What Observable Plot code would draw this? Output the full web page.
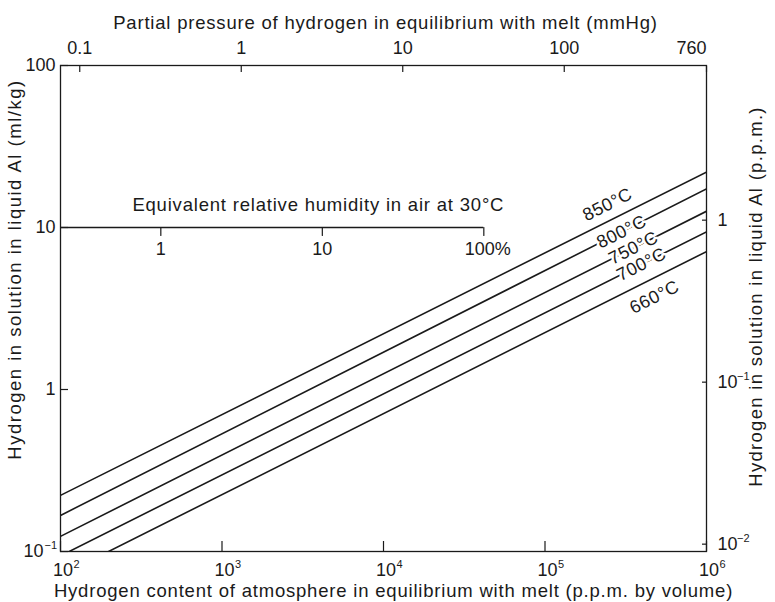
<!DOCTYPE html>
<html>
<head>
<meta charset="utf-8">
<script src="https://cdn.jsdelivr.net/npm/d3@7"></script>
<script src="https://cdn.jsdelivr.net/npm/@observablehq/plot@0.6"></script>
<style>
  body { margin: 0; background: #fff; }
</style>
</head>
<body>
<div id="chart"></div>
<script>
// ---- Data ----
const temperatures = ["850°C", "800°C", "750°C", "700°C", "660°C"];
// hydrogen solubility (ml/kg) at 10^2 and 10^6 p.p.m. of hydrogen in the atmosphere
const solubilityAt1e2 = [0.222, 0.167, 0.124, 0.094, 0.071];
const solubilityAt1e6 = [22.0, 17.3, 12.6, 9.4, 7.1];
// where each temperature label sits along its line (p.p.m. by volume)
const labelPpm = [243800, 297800, 353000, 396000, 476000];

// bottom axis: p.p.m. by volume
const xTickValues = [1e2, 1e3, 1e4, 1e5, 1e6];
const xTickExponents = ["2", "3", "4", "5", "6"];
// top axis: partial pressure (mmHg)
const pressureTicks = [0.1, 1, 10, 100, 760];
const pressureLabels = ["0.1", "1", "10", "100", "760"];
const atmosphereMmHg = 760;
// left axis: ml/kg
const yTickValues = [0.1, 1, 10, 100];
const yTickBase = ["10", "1", "10", "100"];
const yTickExp = ["−1", "", "", ""];
// right axis: p.p.m. (by mass) in liquid Al
const ppmAlTicks = [0.01, 0.1, 1];
const ppmAlBase = ["10", "10", "1"];
const ppmAlExp = ["−2", "−1", ""];
const mlPerKgPerPpm = 11.1;
// inner axis: equivalent relative humidity at 30°C
const rhTicks = [1, 10, 100];
const rhLabels = ["1", "10", "100%"];
const ppmAt100RH = 41800;

// ---- Styling ----
const ink = "#1a1a1a";
const FS = 18;     // tick labels
const TFS = 18.5;  // titles
const EXP_FS = 11;
const font = "'Liberation Sans', Arial, Helvetica, sans-serif";

const lineData = temperatures.flatMap((t, i) => [
  {t, x: 1e2, y: solubilityAt1e2[i]},
  {t, x: 1e6, y: solubilityAt1e6[i]}
]);
function yOnLine(i, x) {
  const a = Math.log10(solubilityAt1e2[i]), b = Math.log10(solubilityAt1e6[i]);
  return 10 ** (a + (Math.log10(x) - 2) * (b - a) / 4);
}
const labels = temperatures.map((t, i) => ({t, i, x: labelPpm[i], y: yOnLine(i, labelPpm[i])}));
const angle = -26.6;

const xs = xTickValues.map((v, i) => ({v, e: xTickExponents[i]}));
const tops = pressureTicks.map((p, i) => ({v: p / atmosphereMmHg * 1e6, s: pressureLabels[i]}));
const lefts = yTickValues.map((v, i) => ({v, b: yTickBase[i], e: yTickExp[i]}));
const rights = ppmAlTicks.map((p, i) => ({v: p * mlPerKgPerPpm, b: ppmAlBase[i], e: ppmAlExp[i]}));
const rhs = rhTicks.map((r, i) => ({v: r / 100 * ppmAt100RH, s: rhLabels[i]}));

const tickDown = {draw(ctx, l) { ctx.moveTo(0, 0); ctx.lineTo(0, l); }};
const T = {fill: ink, lineAnchor: "middle"};

const leftTitle = "Hydrogen in solution in liquid Al (ml/kg)";
const rightTitle = "Hydrogen in solution in liquid Al (p.p.m.)";

const chart = Plot.plot({
  width: 775,
  height: 602,
  marginLeft: 60,
  marginRight: 69,
  marginTop: 65,
  marginBottom: 51,
  style: {fontFamily: font, fontSize: FS + "px", color: ink, background: "#fff"},
  x: {type: "log", domain: [1e2, 1e6], axis: null},
  y: {type: "log", domain: [0.1, 100], axis: null},
  marks: [
    // curves
    Plot.line(lineData, {x: "x", y: "y", z: "t", stroke: ink, strokeWidth: 1.6, clip: true}),
    // frame and inward ticks
    Plot.frame({stroke: ink, strokeWidth: 1.3}),
    Plot.axisX(xTickValues, {anchor: "bottom", tickSize: -10, fill: "none", stroke: ink, strokeWidth: 1.2}),
    Plot.axisX(tops.map(d => d.v), {anchor: "top", tickSize: -6, fill: "none", stroke: ink, strokeWidth: 1.2}),
    Plot.axisY(yTickValues, {anchor: "left", tickSize: -8, fill: "none", stroke: ink, strokeWidth: 1.2}),
    Plot.axisY(rights.map(d => d.v), {anchor: "right", tickSize: -5, fill: "none", stroke: ink, strokeWidth: 1.2}),

    // bottom tick labels 10^n
    Plot.text(xs, {...T, x: "v", frameAnchor: "bottom", text: () => "10", textAnchor: "middle", dx: 2.5, dy: 19, fontSize: FS}),
    Plot.text(xs, {...T, x: "v", frameAnchor: "bottom", text: "e", dx: 13, dy: 13, textAnchor: "start", fontSize: EXP_FS}),
    // top tick labels
    Plot.text(tops.slice(0, 4), {...T, x: "v", frameAnchor: "top", text: "s", textAnchor: "middle", dy: -17, fontSize: FS}),
    Plot.text(tops.slice(4), {...T, x: "v", frameAnchor: "top", text: "s", dy: -17, textAnchor: "end", fontSize: FS}),
    // left tick labels
    Plot.text(lefts.filter(d => !d.e), {...T, y: "v", frameAnchor: "left", text: "b", dx: -5, textAnchor: "end", fontSize: FS}),
    Plot.text(lefts.filter(d => d.e), {...T, y: "v", frameAnchor: "left", text: "b", dx: -17, textAnchor: "end", fontSize: FS}),
    Plot.text(lefts.filter(d => d.e), {...T, y: "v", frameAnchor: "left", text: "e", dx: -16, dy: -6, textAnchor: "start", fontSize: EXP_FS}),
    // right tick labels
    Plot.text(rights, {...T, y: "v", frameAnchor: "right", text: "b", dx: 11, textAnchor: "start", fontSize: FS}),
    Plot.text(rights.filter(d => d.e), {...T, y: "v", frameAnchor: "right", text: "e", dx: 30.5, dy: -6, textAnchor: "start", fontSize: EXP_FS}),

    // axis titles
    Plot.text(["Partial pressure of hydrogen in equilibrium with melt (mmHg)"], {...T, frameAnchor: "top", textAnchor: "middle", dx: 2, dy: -42, fontSize: TFS}),
    Plot.text(["Hydrogen content of atmosphere in equilibrium with melt (p.p.m. by volume)"], {...T, frameAnchor: "bottom", textAnchor: "middle", dx: 10, dy: 40, fontSize: TFS}),
    Plot.text([leftTitle], {...T, frameAnchor: "left", textAnchor: "middle", rotate: -90, dx: -45, dy: -39, fontSize: TFS}),
    Plot.text([rightTitle], {...T, frameAnchor: "right", textAnchor: "middle", rotate: -90, dx: 50, dy: -12, fontSize: TFS}),

    // inner humidity axis
    Plot.ruleY([10], {x1: 1e2, x2: ppmAt100RH, stroke: ink, strokeWidth: 1.3}),
    Plot.vector(rhs, {x: "v", y: () => 10, length: 8, anchor: "start", shape: tickDown, stroke: ink, strokeWidth: 1.2}),
    Plot.text(rhs.slice(0, 2), {...T, x: "v", y: () => 10, text: "s", dy: 22, fontSize: FS}),
    Plot.text(rhs.slice(2), {...T, x: "v", y: () => 10, text: "s", dx: 4, dy: 22, fontSize: FS}),
    Plot.text(["Equivalent relative humidity in air at 30°C"], {...T, x: () => 0.1 * ppmAt100RH, y: () => 10, dx: -4, dy: -22, fontSize: TFS}),

    // temperature labels
    Plot.text(labels.filter(d => d.i === 0), {...T, x: "x", y: "y", text: "t", rotate: angle, dy: -17, fontSize: FS}),
    Plot.text(labels.filter(d => d.i >= 1 && d.i <= 3), {...T, x: "x", y: "y", text: "t", rotate: angle, fontSize: FS, stroke: "#fff", strokeWidth: 5}),
    Plot.text(labels.filter(d => d.i === 4), {...T, x: "x", y: "y", text: "t", rotate: angle, dy: 19.5, fontSize: FS})
  ]
});
// open letter spacing on the long titles, as in the reference typesetting
d3.select(chart).selectAll("text").filter(function() { return this.textContent.length > 25; })
  .attr("letter-spacing", "0.8");
d3.select(chart).selectAll("text").filter(function() { return this.textContent === leftTitle; })
  .attr("letter-spacing", "1.5");
d3.select(chart).selectAll("text").filter(function() { return this.textContent === rightTitle; })
  .attr("letter-spacing", "1.3");
d3.select(chart).selectAll("text").filter(function() { return /°C$/.test(this.textContent) && this.textContent.length < 7; })
  .attr("letter-spacing", "0.5");
document.getElementById("chart").appendChild(chart);
</script>
</body>
</html>
